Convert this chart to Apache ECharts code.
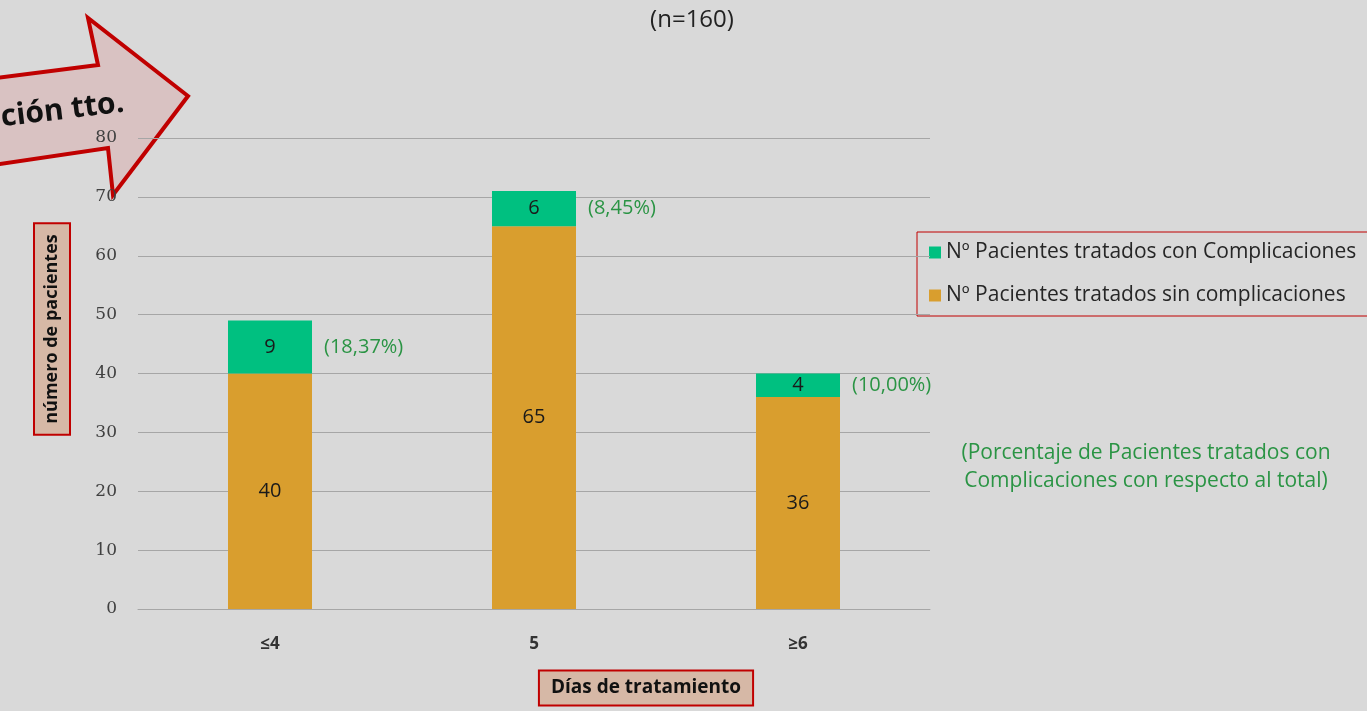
<!DOCTYPE html>
<html>
<head>
<meta charset="utf-8">
<script src="https://cdn.jsdelivr.net/npm/echarts@6/dist/echarts.min.js"></script>
<style>
  html, body { margin: 0; padding: 0; background: #d9d9d9; }
  #chart { width: 1367px; height: 711px; }
</style>
</head>
<body>
<div id="chart"></div>
<script>
// datos
const categories = ['≤4', '5', '≥6']
const sinComplicaciones = [40, 65, 36]
const conComplicaciones = [9, 6, 4]
const porcentajes = ['(18,37%)', '(8,45%)', '(10,00%)']
const yTicks = [0, 10, 20, 30, 40, 50, 60, 70, 80]

const green = '#00c080'
const orange = '#d99e2e'
const red = '#c00000'
const textGreen = '#2a9444'
const font = "'Open Sans', 'Noto Sans', sans-serif"

// punto medio del tramo verde, para colgar el porcentaje a la derecha
const pctPoints = categories.map((c, i) => [c, sinComplicaciones[i] + conComplicaciones[i] / 2])

const chart = echarts.init(document.getElementById('chart'))

const option = {
  backgroundColor: '#d9d9d9',
  animation: false,
  grid: { left: 138, right: 437, top: 138, bottom: 102 },
  legend: {
    orient: 'vertical',
    left: 917,
    top: 232,
    padding: [10, 14, 10, 12],
    itemGap: 22,
    itemWidth: 12,
    itemHeight: 12,
    icon: 'rect',
    borderColor: red,
    borderWidth: 1,
    textStyle: { fontFamily: font, fontSize: 21, color: '#262626' },
    data: ['Nº Pacientes tratados con Complicaciones', 'Nº Pacientes tratados sin complicaciones']
  },
  xAxis: {
    type: 'category',
    data: categories,
    axisTick: { show: false },
    axisLine: { lineStyle: { color: '#a6a6a6' } },
    axisLabel: { margin: 27, fontFamily: font, fontSize: 17, fontWeight: 'bold', color: '#333' }
  },
  yAxis: {
    type: 'value',
    z: 10,
    min: 0,
    max: yTicks[yTicks.length - 1],
    interval: 10,
    axisLine: { show: false },
    axisTick: { show: false },
    splitLine: { lineStyle: { color: '#a6a6a6' } },
    axisLabel: { margin: 21, fontFamily: "'DejaVu Serif', serif", fontSize: 17, color: '#404040' }
  },
  series: [
    {
      name: 'Nº Pacientes tratados sin complicaciones',
      type: 'bar',
      stack: 'total',
      z: 12,
      barWidth: 84,
      itemStyle: { color: orange },
      label: { show: true, position: 'inside', fontFamily: font, fontSize: 20, color: '#1a1a1a' },
      data: sinComplicaciones
    },
    {
      name: 'Nº Pacientes tratados con Complicaciones',
      type: 'bar',
      stack: 'total',
      z: 12,
      barWidth: 84,
      itemStyle: { color: green },
      label: { show: true, position: 'inside', fontFamily: font, fontSize: 20, color: '#1a1a1a' },
      data: conComplicaciones
    },
    {
      type: 'scatter',
      z: 12,
      symbolSize: 0,
      itemStyle: { color: textGreen, opacity: 1 },
      silent: true,
      label: {
        show: true,
        position: 'right',
        distance: 54,
        fontFamily: font,
        fontSize: 20,
        color: textGreen,
        formatter: p => porcentajes[p.dataIndex]
      },
      data: pctPoints
    }
  ],
  graphic: [
    {
      type: 'text',
      x: 692,
      y: 20,
      style: {
        text: '(n=160)', fontFamily: font, fontSize: 24, fill: '#222',
        textAlign: 'center', textVerticalAlign: 'middle'
      }
    },
    {
      type: 'polygon',
      z: 5,
      shape: { points: [[-20, 80], [98, 65], [88, 18], [188, 96], [113, 195], [108, 148], [-20, 167]] },
      style: { fill: '#d9c2c2', stroke: red, lineWidth: 4, lineJoin: 'miter' }
    },
    {
      type: 'text',
      z: 6,
      x: 124,
      y: 103,
      rotation: 0.12,
      style: {
        text: 'ción tto.', fontFamily: font, fontSize: 30, fontWeight: 'bold', fill: '#111',
        textAlign: 'right', textVerticalAlign: 'middle'
      }
    },
    {
      type: 'text',
      x: 52,
      y: 329,
      rotation: Math.PI / 2,
      style: {
        text: 'número de pacientes', fontFamily: font, fontSize: 18, fontWeight: 'bold', fill: '#111',
        textAlign: 'center', textVerticalAlign: 'middle',
        backgroundColor: '#d6b8a6', borderColor: red, borderWidth: 2, padding: [8, 10, 8, 10]
      }
    },
    {
      type: 'text',
      x: 646,
      y: 688,
      style: {
        text: 'Días de tratamiento', fontFamily: font, fontSize: 19, fontWeight: 'bold', fill: '#111',
        textAlign: 'center', textVerticalAlign: 'middle',
        backgroundColor: '#d6b8a6', borderColor: red, borderWidth: 2, padding: [7, 11, 7, 11]
      }
    },
    {
      type: 'text',
      x: 1146,
      y: 467,
      style: {
        text: '(Porcentaje de Pacientes tratados con\nComplicaciones con respecto al total)',
        fontFamily: font, fontSize: 21, lineHeight: 28, fill: textGreen,
        textAlign: 'center', textVerticalAlign: 'middle'
      }
    }
  ]
}

chart.setOption(option)
</script>
</body>
</html>
